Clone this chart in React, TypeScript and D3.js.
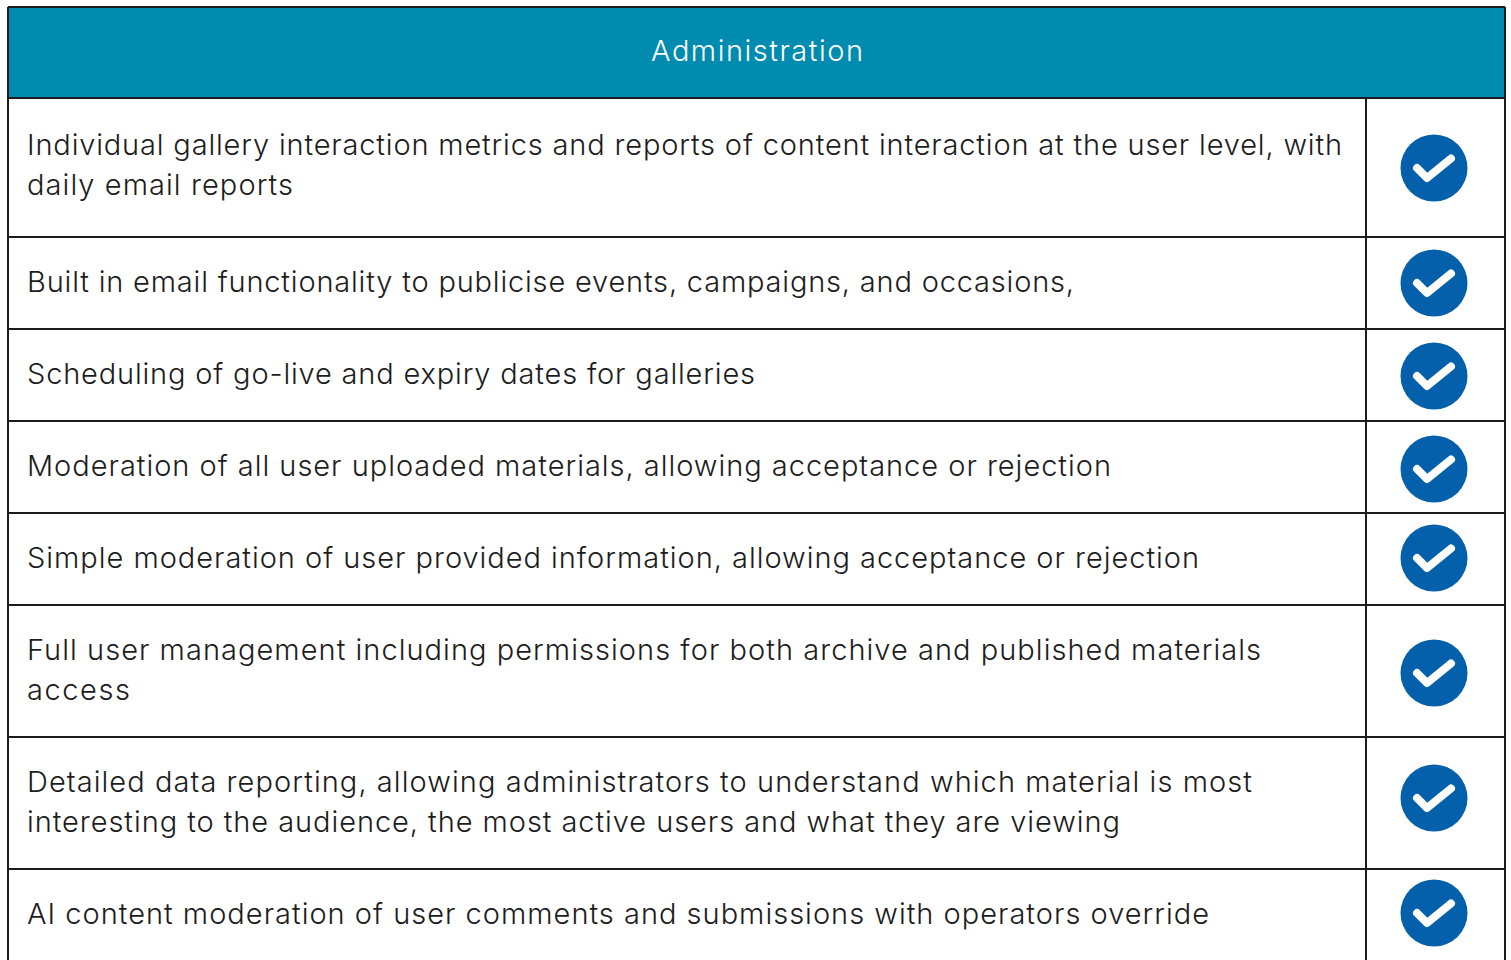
import React from 'react';
import * as d3 from 'd3';

const title = 'Administration';

// one entry per row, each inner list is a wrapped line
const features = [
  ['Individual gallery interaction metrics and reports of content interaction at the user level, with', 'daily email reports'],
  ['Built in email functionality to publicise events, campaigns, and occasions,'],
  ['Scheduling of go-live and expiry dates for galleries'],
  ['Moderation of all user uploaded materials, allowing acceptance or rejection'],
  ['Simple moderation of user provided information, allowing acceptance or rejection'],
  ['Full user management including permissions for both archive and published materials', 'access'],
  ['Detailed data reporting, allowing administrators to understand which material is most', 'interesting to the audience, the most active users and what they are viewing'],
  ['AI content moderation of user comments and submissions with operators override'],
];

const included = [true, true, true, true, true, true, true, true];

// layout, kept apart from the data
const width = 1511;
const height = 960;
const left = 8;
const right = 1505;
const divider = 1366;
const top = 7;
const headerBottom = 98;
const rowEdges = [98, 237, 329, 421, 513, 605, 737, 869, 1001];
const firstBaselines = [155, 292, 384, 476, 568, 660, 792, 924];
const checkCentres = [168, 283, 376, 469, 558, 673, 798, 913];
// the original face is wider than anything installed, so each line is fitted to its measured width
const lineWidths = [[1315, 266], [1047], [728], [1084], [1172], [1234, 103], [1225, 1093], [1182]];
const lineGap = 40;
const ink = '#1c1c1c';

const font = 'Inter, sans-serif';

const checkPath = d3.line()([[-17, 0], [-7, 10], [17, -9.5]]) as string;

export default function App() {
  const rows = d3.range(features.length);
  return (
    <svg
      width={width}
      height={height}
      viewBox={`0 0 ${width} ${height}`}
      style={{ position: 'absolute', left: 0, top: 0, display: 'block', background: '#fff' }}
    >
      <rect x={left} y={top} width={right - left} height={headerBottom - top} fill="#008bb0" />
      <text
        x={757}
        y={61}
        textAnchor="middle"
        fill="#fff"
        fontFamily={font}
        fontWeight={300}
        fontSize={29}
        textLength={212}
        lengthAdjust="spacing"
      >
        {title}
      </text>

      {rowEdges.map((y) => (
        <line key={y} x1={left} x2={right} y1={y} y2={y} stroke={ink} strokeWidth={2} />
      ))}
      <line x1={left} x2={right} y1={top} y2={top} stroke={ink} strokeWidth={2} />
      <line x1={left} x2={left} y1={top} y2={height} stroke={ink} strokeWidth={2} />
      <line x1={right} x2={right} y1={top} y2={height} stroke={ink} strokeWidth={2} />
      <line x1={divider} x2={divider} y1={headerBottom} y2={height} stroke={ink} strokeWidth={2} />

      {rows.map((i) => (
        <g key={i}>
          {features[i].map((t, j) => (
            <text
              key={j}
              x={27}
              y={firstBaselines[i] + j * lineGap}
              fill={ink}
              fontFamily={font}
              fontWeight={300}
              fontSize={29}
              textLength={lineWidths[i][j]}
              lengthAdjust="spacing"
            >
              {t}
            </text>
          ))}
          {included[i] && (
            <g transform={`translate(1434,${checkCentres[i]})`}>
              <circle r={33.5} fill="#0460ab" />
              <path d={checkPath} fill="none" stroke="#fff" strokeWidth={8} strokeLinecap="round" strokeLinejoin="round" />
            </g>
          )}
        </g>
      ))}
    </svg>
  );
}
